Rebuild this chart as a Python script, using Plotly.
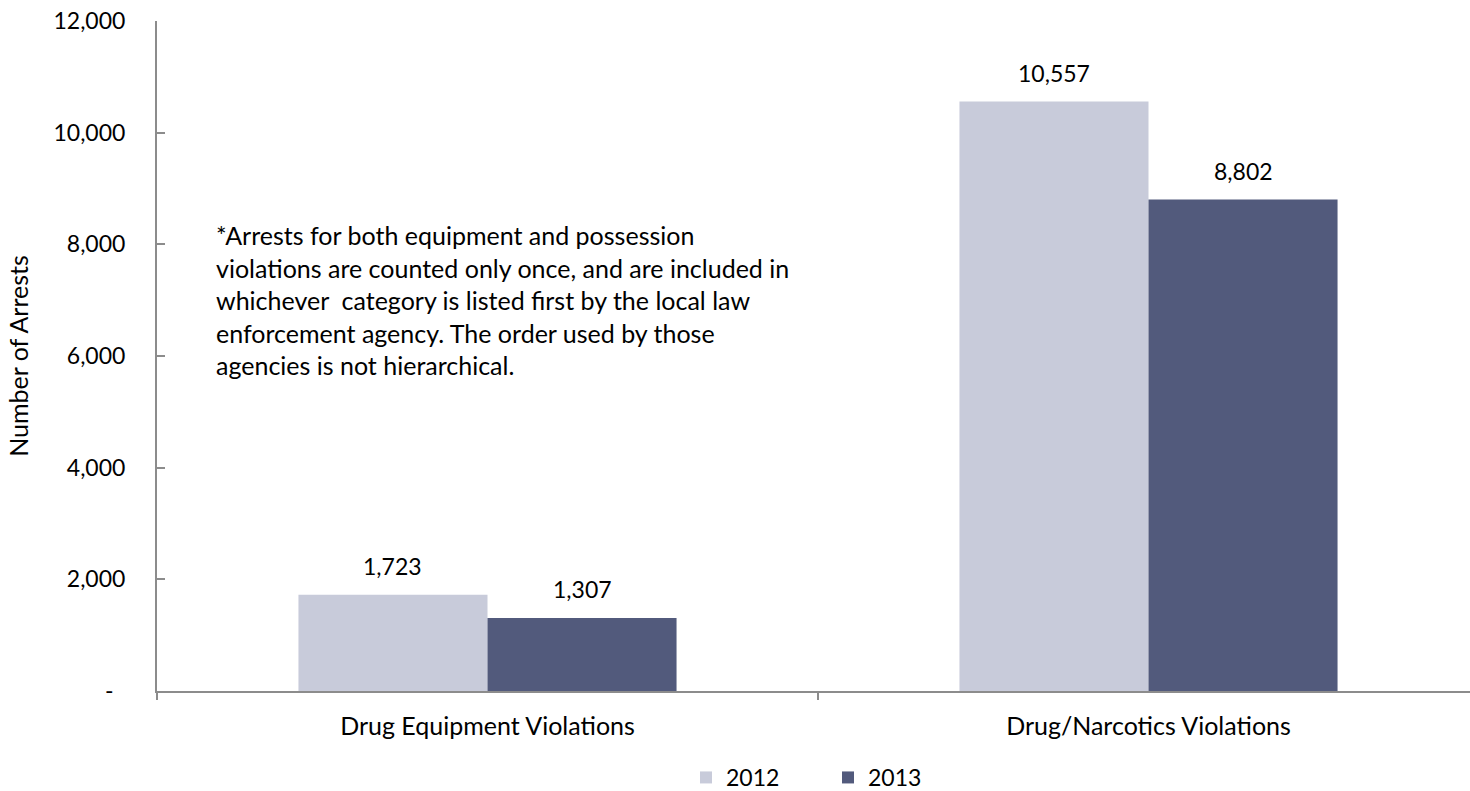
import plotly.graph_objects as go

categories = ["Drug Equipment Violations", "Drug/Narcotics Violations"]
years = ["2012", "2013"]
arrests_2012 = [1723, 10557]
arrests_2013 = [1307, 8802]
ytick_vals = [0, 2000, 4000, 6000, 8000, 10000, 12000]
ytick_text = ["-\u00a0\u00a0", "2,000", "4,000", "6,000", "8,000", "10,000", "12,000"]

note = ("*Arrests for both equipment and possession<br>"
        "violations are counted only once, and are included in<br>"
        "whichever\u00a0 category is listed first by the local law<br>"
        "enforcement agency. The order used by those<br>"
        "agencies is not hierarchical.")

FONT = "Lato"
FS_NUM = 23   # numeric labels
FS_TXT = 25   # word labels
colors = {"2012": "#C8CBDA", "2013": "#525A7C"}
axis_color = "#8C8C8C"

fig = go.Figure()
for year, vals in zip(years, [arrests_2012, arrests_2013]):
    fig.add_trace(go.Bar(
        name=year, x=categories, y=vals,
        marker=dict(color=colors[year], line=dict(width=0)),
        offsetgroup=year,
    ))

# value labels above each bar
annotations = []
for i, (year, vals) in enumerate(zip(years, [arrests_2012, arrests_2013])):
    for j, v in enumerate(vals):
        annotations.append(dict(
            x=j + (-0.143 if i == 0 else 0.143), y=v, xref="x", yref="y",
            text=f"{v:,}", showarrow=False, yanchor="bottom", yshift=13,
            font=dict(family=FONT, size=FS_NUM, color="#000000"),
        ))

# explanatory note inside the plot area
annotations.append(dict(
    x=(214 - 157) / 1313, y=(691 - 218) / 670 * 12000, xref="paper", yref="y",
    text=note, showarrow=False, xanchor="left", yanchor="top", align="left",
    font=dict(family=FONT, size=FS_TXT, color="#000000"),
))

fig.update_layout(
    width=1470, height=791,
    margin=dict(l=157, r=0, t=21, b=100, autoexpand=False),
    paper_bgcolor="white", plot_bgcolor="white",
    barmode="group", bargap=0.428, bargroupgap=0,
    font=dict(family=FONT, size=FS_NUM, color="#000000"),
    showlegend=True,
    legend=dict(orientation="h", x=(686 - 157) / 1313, xanchor="left",
                y=-0.097, yanchor="top", font=dict(family=FONT, size=FS_NUM),
                entrywidth=97, entrywidthmode="pixels", traceorder="normal"),
    annotations=annotations,
)
fig.update_xaxes(
    range=[-0.5, -0.5 + 1313 / 661], showline=True, linecolor=axis_color, linewidth=2,
    ticks="outside", tickson="boundaries", ticklen=7, tickcolor=axis_color, tickwidth=1.5,
    showgrid=False, zeroline=False, ticklabelstandoff=12,
    tickfont=dict(family=FONT, size=FS_TXT),
)
fig.update_yaxes(
    range=[0, 12000], tickvals=ytick_vals, ticktext=ytick_text,
    showline=True, linecolor=axis_color, linewidth=2,
    ticks="inside", ticklen=8, tickcolor=axis_color, tickwidth=1.5,
    showgrid=False, zeroline=False, ticklabelstandoff=25,
    tickfont=dict(family=FONT, size=FS_NUM),
    title=dict(text="Number of Arrests", font=dict(family=FONT, size=FS_TXT), standoff=18),
)

fig.write_html("out.html")
